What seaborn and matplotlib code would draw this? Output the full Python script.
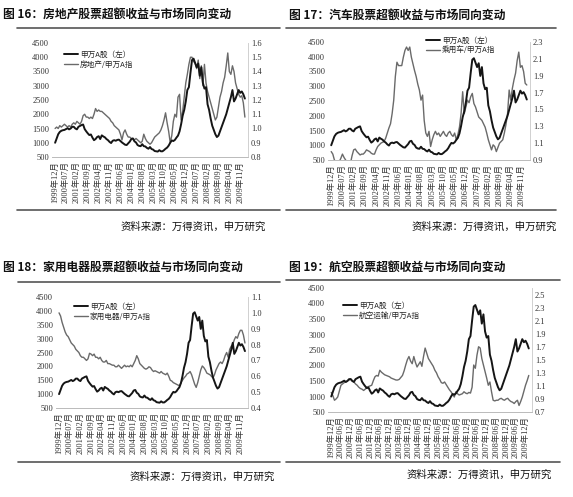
import numpy as np
import pandas as pd
import seaborn as sns
import matplotlib.pyplot as plt
from matplotlib.lines import Line2D

# 申万A股 monthly (left axis)
sw_a = [1000, 1150, 1300, 1380, 1420, 1440, 1450, 1480, 1510, 1470,
        1500, 1560, 1560, 1500, 1470, 1560, 1590, 1620, 1640, 1480,
        1400, 1330, 1270, 1290, 1180, 1090, 1130, 1200, 1230, 1130,
        1260, 1220, 1190, 1130, 1090, 1030, 990, 1070, 1090, 1070,
        1100, 1110, 1060, 1010, 970, 930, 920, 980, 1040, 1130,
        1150, 1050, 1010, 920, 890, 880, 950, 880, 870, 820,
        790, 850, 780, 760, 710, 700, 690, 740, 700, 700,
        740, 790, 830, 900, 1000, 1080, 1060, 1100, 1180, 1250,
        1400, 1650, 1950, 2150, 2450, 2850, 2950, 3450, 3900, 3950,
        3800, 3650, 3780, 3350, 3650, 3100, 2900, 2950, 2350, 2150,
        1850, 1600, 1450, 1300, 1200, 1250, 1400, 1550, 1700, 1850,
        2000, 2200, 2400, 2600, 2850, 2450, 2550, 2700, 2850, 2750,
        2800, 2700, 2550]

# relative strength series (right axis)
real_estate = [1.00, 1.01, 1.00, 1.02, 1.01, 1.02, 1.03, 1.02, 1.01, 1.02,
               1.01, 1.03, 1.04, 1.03, 1.05, 1.04, 1.03, 1.05, 1.09, 1.10,
               1.08, 1.08, 1.07, 1.08, 1.07, 1.10, 1.14, 1.12, 1.13, 1.12,
               1.12, 1.11, 1.10, 1.09, 1.08, 1.07, 1.05, 1.04, 1.02, 1.01,
               1.00, 0.99, 0.96, 0.92, 0.97, 0.99, 0.96, 0.94, 0.94, 0.93,
               0.93, 0.92, 0.93, 0.92, 0.91, 0.90, 0.91, 0.96, 0.93, 0.91,
               0.90, 0.89, 0.90, 0.92, 0.94, 0.95, 0.96, 0.97, 0.99, 1.02,
               1.06, 1.11, 1.04, 0.98, 0.90, 0.95, 1.05, 1.10, 1.08, 1.22,
               1.24, 1.06, 1.12, 1.22, 1.32, 1.38, 1.45, 1.50, 1.50, 1.47,
               1.46, 1.42, 1.48, 1.35, 1.44, 1.30, 1.45, 1.32, 1.26, 1.22,
               1.18, 1.14, 1.10, 1.06, 1.08, 1.15, 1.22, 1.26, 1.32, 1.36,
               1.44, 1.53, 1.40, 1.38, 1.44, 1.40, 1.32, 1.28, 1.24, 1.22,
               1.23, 1.18, 1.08]

cars = [1.00, 0.97, 0.90, 0.88, 0.86, 0.88, 0.92, 0.97, 0.93, 0.90,
        0.87, 0.85, 0.86, 0.95, 1.02, 1.03, 1.00, 0.98, 0.96, 0.97,
        0.97, 0.99, 1.02, 1.01, 1.00, 0.98, 0.97, 0.97, 1.02, 1.06,
        1.08, 1.10, 1.11, 1.12, 1.16, 1.22, 1.28, 1.33, 1.45, 1.61,
        1.89, 2.06, 2.02, 2.02, 2.02, 2.12, 2.20, 2.24, 2.20, 2.24,
        2.12, 2.04, 1.96, 1.89, 1.80, 1.73, 1.61, 1.67, 1.37, 1.22,
        1.18, 1.24, 1.06, 1.14, 1.20, 1.24, 1.20, 1.22, 1.18, 1.21,
        1.24, 1.20, 1.18, 1.22, 1.24, 1.20, 1.18, 1.22, 1.14, 1.20,
        1.29, 1.45, 1.71, 1.45, 1.53, 1.61, 1.58, 1.65, 1.69, 1.57,
        1.53, 1.47, 1.41, 1.39, 1.37, 1.33, 1.29, 1.22, 1.14, 1.08,
        1.02, 1.08, 1.06, 1.00, 1.05, 1.10, 1.12, 1.14, 1.22, 1.32,
        1.45, 1.73, 1.61, 1.75, 1.85, 1.93, 2.08, 2.18, 2.00, 2.02,
        1.95, 1.81, 1.79]

appliances = [1.00, 0.98, 0.94, 0.91, 0.88, 0.86, 0.85, 0.83, 0.81, 0.80,
              0.79, 0.77, 0.76, 0.75, 0.73, 0.72, 0.72, 0.71, 0.70, 0.71,
              0.745, 0.74, 0.73, 0.74, 0.72, 0.72, 0.71, 0.72, 0.70, 0.69,
              0.69, 0.70, 0.68, 0.68, 0.675, 0.67, 0.67, 0.66, 0.66, 0.67,
              0.66, 0.65, 0.66, 0.67, 0.66, 0.665, 0.66, 0.67, 0.66, 0.68,
              0.70, 0.73, 0.71, 0.68, 0.67, 0.66, 0.65, 0.645, 0.65, 0.66,
              0.655, 0.64, 0.63, 0.635, 0.63, 0.625, 0.62, 0.63, 0.62, 0.615,
              0.61, 0.62, 0.60, 0.575, 0.57, 0.56, 0.555, 0.55, 0.545, 0.54,
              0.56, 0.575, 0.59, 0.60, 0.615, 0.62, 0.63, 0.61, 0.58, 0.55,
              0.53, 0.56, 0.60, 0.64, 0.665, 0.655, 0.64, 0.62, 0.615, 0.61,
              0.60, 0.59, 0.61, 0.64, 0.66, 0.68, 0.69, 0.68, 0.70, 0.73,
              0.75, 0.72, 0.77, 0.79, 0.80, 0.83, 0.85, 0.84, 0.87, 0.89,
              0.89, 0.86, 0.81]

airlines = [1.00, 0.95, 0.88, 0.90, 0.93, 1.02, 1.11, 1.13, 1.15, 1.16,
            1.18, 1.19, 1.21, 1.18, 1.16, 1.13, 1.11, 1.08, 1.06, 1.05,
            1.03, 1.05, 1.08, 1.09, 1.10, 1.11, 1.18, 1.24, 1.26, 1.25,
            1.34, 1.31, 1.29, 1.27, 1.26, 1.25, 1.24, 1.22, 1.21, 1.20,
            1.19, 1.19, 1.20, 1.23, 1.26, 1.33, 1.42, 1.50, 1.55, 1.48,
            1.44, 1.55, 1.46, 1.39, 1.43, 1.47, 1.40, 1.55, 1.68, 1.60,
            1.52, 1.48, 1.44, 1.40, 1.34, 1.30, 1.24, 1.20, 1.15, 1.14,
            1.16, 1.12, 1.08, 1.04, 1.01, 0.97, 0.93, 1.01, 0.98, 0.96,
            0.97, 0.98, 1.01, 0.99, 0.98, 1.00, 0.99, 1.08, 1.42, 1.37,
            1.57, 1.70, 1.68, 1.52, 1.42, 1.32, 1.22, 1.11, 1.16, 1.01,
            0.88, 0.87, 0.88, 0.88, 0.90, 0.91, 0.89, 0.88, 0.90, 0.91,
            0.88, 0.86, 0.85, 0.83, 0.86, 0.88, 0.80, 0.86, 0.93, 1.02,
            1.11, 1.18, 1.26]

labels_7m = ['1999年12月', '2000年07月', '2001年02月', '2001年09月', '2002年04月',
             '2002年11月', '2003年06月', '2004年01月', '2004年08月', '2005年03月',
             '2005年10月', '2006年05月', '2006年12月', '2007年07月', '2008年02月',
             '2008年09月', '2009年04月', '2009年11月']
labels_6m = ['1999年12月', '2000年06月', '2000年12月', '2001年06月', '2001年12月',
             '2002年06月', '2002年12月', '2003年06月', '2003年12月', '2004年06月',
             '2004年12月', '2005年06月', '2005年12月', '2006年06月', '2006年12月',
             '2007年06月', '2007年12月', '2008年06月', '2008年12月', '2009年06月',
             '2009年12月']

W, H = 573, 497
CJK = ['Noto Sans CJK SC', 'DejaVu Sans']
NUM = ['Liberation Serif', 'Noto Sans CJK SC']

sns.set_style('white')
plt.rcParams['font.family'] = NUM

fig = plt.figure(figsize=(W / 100, H / 100), dpi=100)
month = np.arange(len(sw_a))


def panel(px, title, ratio, ratio_name, rlim, rticks, xlabels, step, leg_xy):
    left, right, top, bottom = px
    ax = fig.add_axes([left / W, 1 - bottom / H, (right - left) / W, (bottom - top) / H])
    ax2 = ax.twinx()
    df = pd.DataFrame({'m': month, 'a': sw_a, 'r': ratio})
    sns.lineplot(data=df, x='m', y='a', ax=ax, color='#151515', lw=1.4, zorder=3)
    sns.lineplot(data=df, x='m', y='r', ax=ax2, color='#6a6a6a', lw=1.0)
    ax.set_zorder(ax2.get_zorder() + 1)
    ax.patch.set_visible(False)

    ax.set_xlim(-2, 124)
    ax.set_ylim(500, 4500)
    ax.set_yticks(range(500, 4501, 500))
    ax2.set_ylim(*rlim)
    ax2.set_yticks(rticks)
    ax2.set_yticklabels([f'{t:.1f}' for t in rticks])
    ax.set_xticks(np.arange(len(xlabels)) * step)
    ax.set_xticklabels(xlabels, rotation=90, fontsize=5.8, family=NUM, color='#333333')
    ax.set_xlabel('')
    ax.set_ylabel('')
    ax2.set_ylabel('')
    for a in (ax, ax2):
        a.tick_params(length=0, pad=2, labelsize=6, colors='#333333')
        for s in ('top', 'left'):
            a.spines[s].set_visible(False)
        a.spines['right'].set_color('#d0d0d0')
        a.spines['right'].set_linewidth(0.6)
        a.spines['bottom'].set_color('#bbbbbb')
        a.spines['bottom'].set_linestyle((0, (1, 1)))
        a.spines['bottom'].set_linewidth(0.6)
    ax.tick_params(axis='x', pad=3)

    handles = [Line2D([], [], color='#151515', lw=1.4), Line2D([], [], color='#6a6a6a', lw=1.0)]
    ax.legend(handles, ['申万A股（左）', ratio_name], loc='upper left',
              bbox_to_anchor=(leg_xy[0] / W, 1 - leg_xy[1] / H), bbox_transform=fig.transFigure,
              frameon=False, prop={'family': CJK, 'size': 5.5}, handlelength=1.8,
              handletextpad=0.3, labelspacing=0.25, borderaxespad=0, borderpad=0)

    tx, ty, lx0, lx1, ly, by, sx, sy = title
    fig.text(tx / W, 1 - ty / H, title_text[ratio_name], family=CJK, fontsize=8.5,
             fontweight='bold', va='center', ha='left', color='#111111')
    fig.add_artist(Line2D([lx0 / W, lx1 / W], [1 - ly / H, 1 - ly / H], color='#555555', lw=1.2))
    fig.add_artist(Line2D([lx0 / W, lx1 / W], [1 - by / H, 1 - by / H], color='#555555', lw=1.2))
    fig.text(sx / W, 1 - sy / H, '资料来源：万得资讯，申万研究', family=CJK, fontsize=7.5,
             ha='right', va='center', color='#111111')


title_text = {'房地产/申万A指': '图 16：房地产股票超额收益与市场同向变动',
              '乘用车/申万A指': '图 17：汽车股票超额收益与市场同向变动',
              '家用电器/申万A指': '图 18：家用电器股票超额收益与市场同向变动',
              '航空运输/申万A指': '图 19：航空股票超额收益与市场同向变动'}

panel((52, 248, 43, 157), (3, 15, 17, 280, 28, 210, 266, 227),
      real_estate, '房地产/申万A指', (0.8, 1.6), np.arange(0.8, 1.61, 0.1),
      labels_7m, 7, (64, 51))
panel((328, 530, 42, 160), (289, 15, 286, 556, 28, 210, 557, 227),
      cars, '乘用车/申万A指', (0.9, 2.3), np.arange(0.9, 2.31, 0.2),
      labels_7m, 7, (426, 37))
panel((56, 248, 297, 408), (3, 267, 18, 280, 282, 462, 275, 477),
      appliances, '家用电器/申万A指', (0.4, 1.1), np.arange(0.4, 1.11, 0.1),
      labels_7m, 7, (74, 303))
panel((328, 532, 288, 412), (289, 267, 286, 560, 280, 462, 552, 475),
      airlines, '航空运输/申万A指', (0.7, 2.6), np.arange(0.7, 2.51, 0.2),
      labels_6m, 6, (343, 302))

fig.savefig('out.png', dpi=100, facecolor='white')
